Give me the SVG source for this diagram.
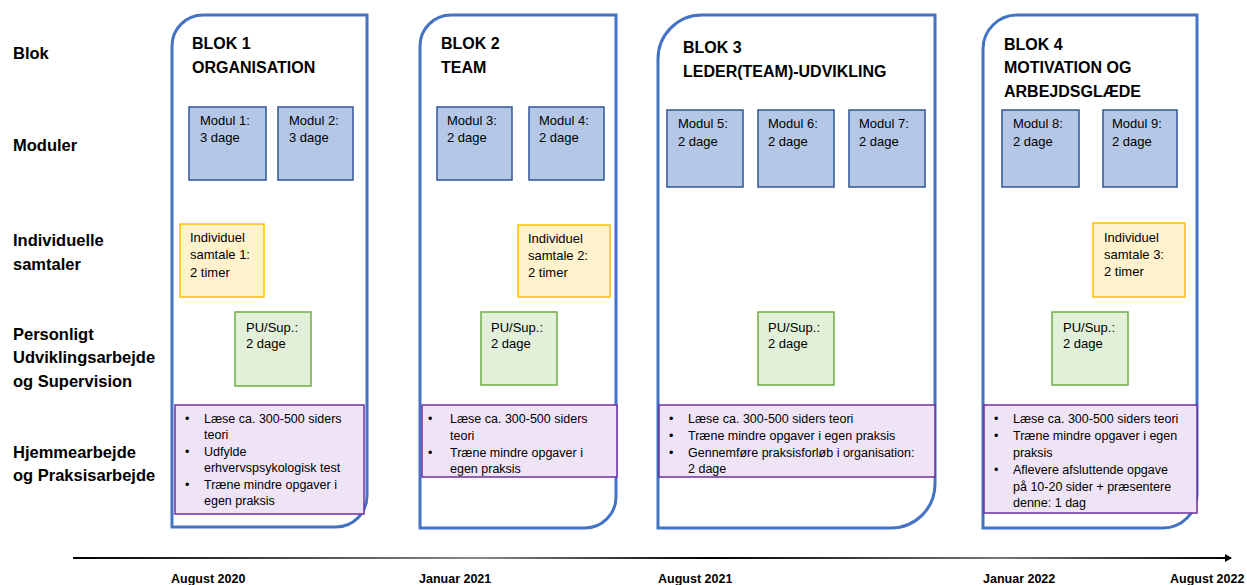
<svg xmlns="http://www.w3.org/2000/svg" width="1247" height="585" viewBox="0 0 1247 585">
<defs>
<style>
text{font-family:"Liberation Sans",Arial,sans-serif;fill:#000}
.lbl{font-size:16.5px;font-weight:bold}
.hd{font-size:16px;font-weight:bold}
.t{font-size:13px}
.l{font-size:12.5px}
.dt{font-size:12.5px;font-weight:bold}
.blk{fill:#fff;stroke:#4472C4;stroke-width:3}
.mod{fill:#B4C7E7;stroke:#2F5597;stroke-width:1.5}
.sam{fill:#FFF2CC;stroke:#FFC000;stroke-width:1.5}
.pu{fill:#E2F0D9;stroke:#70AD47;stroke-width:1.5}
.hw{fill:#EFE4F6;stroke:#7030A0;stroke-width:1.5}
</style>
<linearGradient id="tl" x1="73" y1="0" x2="1231" y2="0" gradientUnits="userSpaceOnUse">
<stop offset="0" stop-color="#000"/>
<stop offset="0.35" stop-color="#8a8a8a"/>
<stop offset="0.55" stop-color="#000"/>
<stop offset="0.8" stop-color="#777"/>
<stop offset="1" stop-color="#000"/>
</linearGradient>
<marker id="ah" markerWidth="8" markerHeight="8" refX="6" refY="4" orient="auto" markerUnits="userSpaceOnUse">
<path d="M0,0 L7,4 L0,8 Z" fill="#000"/>
</marker>
</defs>
<rect width="1247" height="585" fill="#fff"/>

<g id="row-labels">
<text class="lbl" x="13" y="59">Blok</text>
<text class="lbl" x="13" y="151">Moduler</text>
<text class="lbl" x="13" y="246">Individuelle</text>
<text class="lbl" x="13" y="270">samtaler</text>
<text class="lbl" x="13" y="340">Personligt</text>
<text class="lbl" x="13" y="363">Udviklingsarbejde</text>
<text class="lbl" x="13" y="387">og Supervision</text>
<text class="lbl" x="13" y="458">Hjemmearbejde</text>
<text class="lbl" x="13" y="481">og Praksisarbejde</text>
</g>

<g id="blok1">
<path class="blk" d="M203,15 H367 V496 A31,31 0 0 1 336,527 H172 V46 A31,31 0 0 1 203,15 Z"/>
<text class="hd" x="192" y="49">BLOK 1</text>
<text class="hd" x="192" y="73">ORGANISATION</text>
<g id="modul1"><rect class="mod" x="189" y="107" width="77" height="73"/><text class="t" x="200" y="125">Modul 1:</text><text class="t" x="200" y="142">3 dage</text></g>
<g id="modul2"><rect class="mod" x="278" y="107" width="75" height="73"/><text class="t" x="289" y="125">Modul 2:</text><text class="t" x="289" y="142">3 dage</text></g>
<g id="samtale1"><rect class="sam" x="180" y="224" width="84" height="73"/><text class="t" x="190" y="242">Individuel</text><text class="t" x="190" y="259">samtale 1:</text><text class="t" x="190" y="277">2 timer</text></g>
<g id="pu1"><rect class="pu" x="235" y="312" width="76" height="74"/><text class="t" x="246" y="332">PU/Sup.:</text><text class="t" x="246" y="348">2 dage</text></g>
<g id="hjem1"><rect class="hw" x="175" y="405" width="189" height="109"/>
<text class="l" x="185" y="423">•</text><text class="l" x="204" y="423">Læse ca.  300-500 siders</text>
<text class="l" x="204" y="439">teori</text>
<text class="l" x="185" y="456">•</text><text class="l" x="204" y="456">Udfylde</text>
<text class="l" x="204" y="472">erhvervspsykologisk test</text>
<text class="l" x="185" y="489">•</text><text class="l" x="204" y="489">Træne mindre opgaver i</text>
<text class="l" x="204" y="505">egen praksis</text>
</g>
</g>

<g id="blok2">
<path class="blk" d="M451,15 H616 V497 A31,31 0 0 1 585,528 H420 V46 A31,31 0 0 1 451,15 Z"/>
<text class="hd" x="441" y="49">BLOK 2</text>
<text class="hd" x="441" y="73">TEAM</text>
<g id="modul3"><rect class="mod" x="437" y="107" width="75" height="73"/><text class="t" x="447" y="125">Modul 3:</text><text class="t" x="447" y="142">2 dage</text></g>
<g id="modul4"><rect class="mod" x="529" y="107" width="75" height="73"/><text class="t" x="539" y="125">Modul 4:</text><text class="t" x="539" y="142">2 dage</text></g>
<g id="samtale2"><rect class="sam" x="518" y="225" width="92" height="72"/><text class="t" x="528" y="243">Individuel</text><text class="t" x="528" y="260">samtale 2:</text><text class="t" x="528" y="277">2 timer</text></g>
<g id="pu2"><rect class="pu" x="481" y="312" width="76" height="73"/><text class="t" x="491" y="332">PU/Sup.:</text><text class="t" x="491" y="348">2 dage</text></g>
<g id="hjem2"><rect class="hw" x="422" y="405" width="195" height="72"/>
<text class="l" x="428" y="423">•</text><text class="l" x="450" y="423">Læse ca. 300-500 siders</text>
<text class="l" x="450" y="440">teori</text>
<text class="l" x="428" y="457">•</text><text class="l" x="450" y="457">Træne mindre opgaver i</text>
<text class="l" x="450" y="473">egen praksis</text>
</g>
</g>

<g id="blok3">
<path class="blk" d="M702,15 H935 V484 A44,44 0 0 1 891,528 H658 V59 A44,44 0 0 1 702,15 Z"/>
<text class="hd" x="683" y="53">BLOK 3</text>
<text class="hd" x="683" y="77">LEDER(TEAM)-UDVIKLING</text>
<g id="modul5"><rect class="mod" x="667" y="110" width="76" height="77"/><text class="t" x="678" y="128">Modul 5:</text><text class="t" x="678" y="146">2 dage</text></g>
<g id="modul6"><rect class="mod" x="758" y="110" width="76" height="77"/><text class="t" x="768" y="128">Modul 6:</text><text class="t" x="768" y="146">2 dage</text></g>
<g id="modul7"><rect class="mod" x="849" y="110" width="76" height="77"/><text class="t" x="859" y="128">Modul 7:</text><text class="t" x="859" y="146">2 dage</text></g>
<g id="pu3"><rect class="pu" x="758" y="312" width="76" height="73"/><text class="t" x="768" y="332">PU/Sup.:</text><text class="t" x="768" y="348">2 dage</text></g>
<g id="hjem3"><rect class="hw" x="659" y="405" width="276" height="72"/>
<text class="l" x="669" y="423">•</text><text class="l" x="688" y="423">Læse ca. 300-500 siders teori</text>
<text class="l" x="669" y="440">•</text><text class="l" x="688" y="440">Træne mindre opgaver i egen praksis</text>
<text class="l" x="669" y="457">•</text><text class="l" x="688" y="457">Gennemføre praksisforløb i organisation:</text>
<text class="l" x="688" y="473">2 dage</text>
</g>
</g>

<g id="blok4">
<path class="blk" d="M1017,15 H1197 V494 A34,34 0 0 1 1163,528 H983 V49 A34,34 0 0 1 1017,15 Z"/>
<text class="hd" x="1004" y="50">BLOK 4</text>
<text class="hd" x="1004" y="73">MOTIVATION OG</text>
<text class="hd" x="1004" y="97">ARBEJDSGLÆDE</text>
<g id="modul8"><rect class="mod" x="1002" y="110" width="77" height="77"/><text class="t" x="1013" y="128">Modul 8:</text><text class="t" x="1013" y="146">2 dage</text></g>
<g id="modul9"><rect class="mod" x="1103" y="110" width="74" height="77"/><text class="t" x="1112" y="128">Modul 9:</text><text class="t" x="1112" y="146">2 dage</text></g>
<g id="samtale3"><rect class="sam" x="1093" y="223" width="92" height="74"/><text class="t" x="1104" y="242">Individuel</text><text class="t" x="1104" y="259">samtale 3:</text><text class="t" x="1104" y="276">2 timer</text></g>
<g id="pu4"><rect class="pu" x="1052" y="312" width="76" height="73"/><text class="t" x="1063" y="332">PU/Sup.:</text><text class="t" x="1063" y="348">2 dage</text></g>
<g id="hjem4"><rect class="hw" x="984" y="405" width="213" height="108"/>
<text class="l" x="994" y="423">•</text><text class="l" x="1013" y="423">Læse ca. 300-500 siders teori</text>
<text class="l" x="994" y="440">•</text><text class="l" x="1013" y="440">Træne mindre opgaver i egen</text>
<text class="l" x="1013" y="457">praksis</text>
<text class="l" x="994" y="474">•</text><text class="l" x="1013" y="474">Aflevere afsluttende opgave</text>
<text class="l" x="1013" y="491">på 10-20 sider + præsentere</text>
<text class="l" x="1013" y="507">denne: 1 dag</text>
</g>
</g>

<g id="connectors">
<line x1="73" y1="558" x2="1231" y2="558" stroke="url(#tl)" stroke-width="2" marker-end="url(#ah)"/>
</g>

<g id="timeline-labels">
<text class="dt" x="171" y="583">August 2020</text>
<text class="dt" x="419" y="583">Januar 2021</text>
<text class="dt" x="658" y="583">August 2021</text>
<text class="dt" x="983" y="583">Januar 2022</text>
<text class="dt" x="1170" y="583">August 2022</text>
</g>
</svg>
